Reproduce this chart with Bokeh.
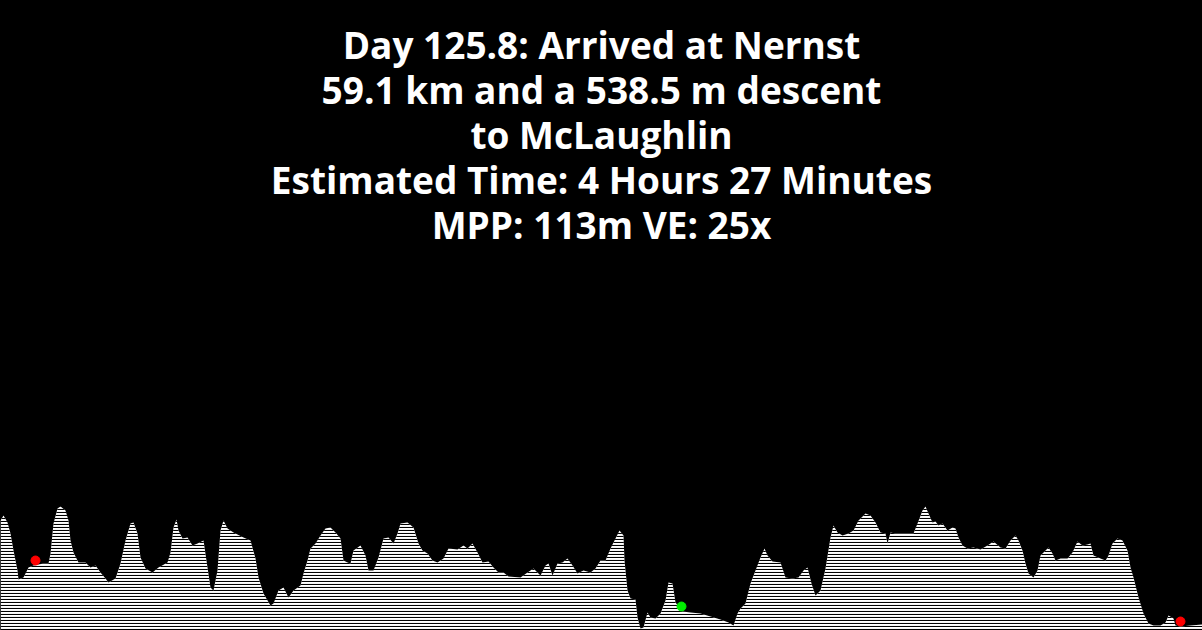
from bokeh.plotting import figure
from bokeh.models import ColumnDataSource, Label, GlobalInlineStyleSheet
from bokeh.embed import file_html
from bokeh.resources import INLINE

# title lines
title_lines = ["Day 125.8: Arrived at Nernst",
               "59.1 km and a 538.5 m descent",
               "to McLaughlin",
               "Estimated Time: 4 Hours 27 Minutes",
               "MPP: 113m VE: 25x"]

# profile, distance along the strip and height above the lowest point (strip units)
dist = [0, 3, 7, 10, 13, 17, 18, 23, 28, 33, 43, 48, 50, 53, 57, 60, 65, 68, 70, 73,
        78, 85, 90, 95, 100, 105, 108, 115, 120, 125, 130, 133, 137, 140, 145, 152, 158, 167, 170, 173,
        176, 178, 182, 187, 192, 197, 203, 207, 210, 213, 217, 220, 223, 227, 233, 243, 250, 255, 258, 263,
        270, 273, 278, 283, 288, 293, 300, 303, 307, 310, 315, 320, 325, 330, 335, 340, 343, 347, 350, 353,
        360, 365, 368, 373, 378, 383, 388, 393, 397, 400, 407, 413, 418, 422, 427, 432, 437, 443, 448, 457,
        463, 467, 472, 477, 482, 488, 493, 498, 503, 508, 520, 527, 533, 540, 545, 548, 552, 557, 562, 567,
        572, 577, 583, 590, 595, 600, 605, 610, 615, 619, 623, 624, 627, 630, 635, 637, 640, 643, 647, 650,
        655, 660, 665, 668, 672, 675, 682, 690, 700, 710, 720, 728, 733, 737, 740, 745, 750, 755, 760, 764,
        767, 772, 780, 785, 792, 798, 803, 807, 811, 815, 820, 825, 830, 833, 837, 842, 848, 853, 858, 865,
        870, 875, 880, 885, 887, 890, 895, 900, 907, 913, 917, 922, 925, 928, 932, 935, 938, 942, 947, 952,
        955, 958, 962, 967, 973, 980, 987, 993, 1000, 1005, 1010, 1015, 1018, 1022, 1025, 1028, 1033, 1037, 1040, 1045,
        1048, 1052, 1055, 1060, 1067, 1072, 1077, 1082, 1087, 1090, 1093, 1100, 1105, 1108, 1112, 1117, 1122, 1127, 1130, 1133,
        1138, 1143, 1148, 1153, 1160, 1165, 1168, 1173, 1175, 1180, 1190, 1202]
elev = [110, 115, 108, 97, 80, 60, 51, 53, 63, 65, 67, 67, 77, 107, 122, 124, 120, 110, 90, 78,
        68, 68, 63, 65, 58, 52, 48, 52, 67, 90, 107, 108, 97, 73, 62, 58, 63, 68, 78, 103,
        111, 100, 92, 93, 85, 87, 90, 63, 43, 40, 60, 100, 110, 102, 98, 93, 90, 72, 53, 37,
        25, 27, 40, 43, 33, 40, 45, 57, 70, 82, 87, 95, 102, 103, 98, 92, 70, 68, 67, 80,
        85, 75, 60, 60, 73, 92, 93, 87, 97, 107, 108, 103, 87, 80, 77, 70, 68, 72, 82, 81,
        85, 82, 87, 78, 68, 69, 63, 58, 58, 54, 53, 58, 62, 55, 65, 67, 55, 67, 68, 72,
        65, 57, 60, 58, 62, 70, 70, 82, 92, 100, 95, 70, 40, 32, 31, 13, 2, 3, 18, 13,
        12, 17, 30, 48, 47, 28, 19, 18, 17, 14, 11, 8, 5, 17, 22, 27, 47, 60, 73, 82,
        75, 69, 68, 53, 52, 53, 60, 63, 47, 35, 40, 62, 93, 105, 98, 95, 97, 100, 110, 117,
        115, 108, 98, 97, 87, 98, 97, 97, 97, 97, 107, 120, 124, 117, 108, 109, 105, 107, 100, 103,
        102, 93, 85, 82, 83, 81, 85, 89, 83, 82, 90, 95, 90, 80, 67, 57, 53, 60, 75, 80,
        83, 77, 70, 72, 72, 78, 89, 85, 86, 87, 75, 72, 70, 75, 87, 92, 90, 80, 63, 53,
        33, 17, 7, 5, 5, 8, 15, 12, 5, 4, 5, 6]

# start, current position, end
mark_dist = [35, 681, 1180]
mark_elev = [70, 24, 9]
mark_color = ["#ff0000", "#00ee00", "#ff0000"]

W, H = 1202, 630

p = figure(width=W, height=H, x_range=(0, W), y_range=(0, H),
           output_backend="svg", toolbar_location=None, min_border=0,
           background_fill_color="black", border_fill_color="black")
p.outline_line_color = None
p.axis.visible = False
p.grid.visible = False
p.stylesheets = [GlobalInlineStyleSheet(css="html, body {margin:0; padding:0; background:#000; overflow:hidden;}")]

src = ColumnDataSource(dict(x=dist, y=elev))
p.varea(x='x', y1=0, y2='y', source=src, fill_color="white",
        hatch_pattern="horizontal_line", hatch_color="black", hatch_scale=3, hatch_weight=1.1)

msrc = ColumnDataSource(dict(x=mark_dist, y=mark_elev, c=mark_color))
p.scatter(x='x', y='y', source=msrc, size=9, fill_color='c', line_color='c')

for i, line in enumerate(title_lines):
    p.add_layout(Label(x=W / 2, y=H - 44 - i * 45, text=line, text_align="center",
                       text_baseline="alphabetic", text_color="white", text_font="Open Sans",
                       text_font_style="bold", text_font_size="37px"))

open("out.html", "w").write(file_html(p, INLINE))
